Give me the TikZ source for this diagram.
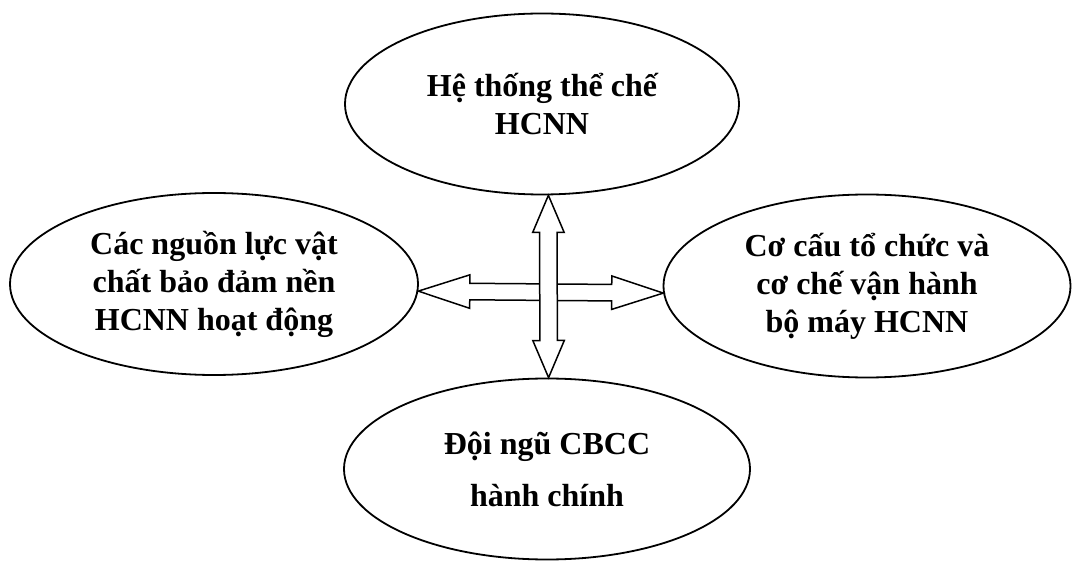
\documentclass[tikz,border=0pt]{standalone}
\usepackage{fontspec}
\setmainfont{Liberation Serif}
\usepackage{tikz}
\usetikzlibrary{shapes.geometric,shapes.arrows,calc}

\begin{document}
\begin{tikzpicture}[x=1pt,y=-1pt,
	part/.style={ellipse,draw,line width=1.8pt,inner sep=0pt,align=center,
		font=\bfseries\fontsize{32}{38}\selectfont},
	harrow/.style={double arrow,draw,fill=white,line width=1.5pt,inner xsep=0pt,inner ysep=7.5pt,
		double arrow head extend=8.5pt,double arrow tip angle=36},
	varrow/.style={double arrow,draw,fill=white,line width=1.5pt,inner xsep=0pt,inner ysep=8pt,
		double arrow head extend=7pt,double arrow tip angle=46}]
	\useasboundingbox (0,0) rectangle (1072,561);

	\node[part,minimum width=394pt,minimum height=181pt](tc) at (542,104){Hệ thống thể chế\\HCNN};
	\node[part,minimum width=408pt,minimum height=182pt](nl) at (214,284){Các nguồn lực vật\\chất bảo đảm nền\\HCNN hoạt động};
	\node[part,minimum width=407pt,minimum height=183pt](cc) at (867,286){Cơ cấu tổ chức và\\cơ chế vận hành\\bộ máy HCNN};
	\node[part,minimum width=406pt,minimum height=181pt,
		font=\bfseries\fontsize{32}{52}\selectfont](db) at (547,469){Đội ngũ CBCC\\hành chính};

	% horizontal arrow first, the vertical one lies on top
	\path let \p1=(nl.-2.5), \p2=(cc.182), \n1={veclen(\x2-\x1,\y2-\y1)}, \n2={atan2(\y2-\y1,\x2-\x1)} in
		node[harrow,minimum height=\n1,rotate=\n2] at ($(\p1)!0.5!(\p2)$) {};
	\path let \p1=(tc.-86), \p2=(db.89), \n1={veclen(\x2-\x1,\y2-\y1)}, \n2={atan2(\y2-\y1,\x2-\x1)} in
		node[varrow,minimum height=\n1,rotate=\n2] at ($(\p1)!0.5!(\p2)$) {};
\end{tikzpicture}
\end{document}
